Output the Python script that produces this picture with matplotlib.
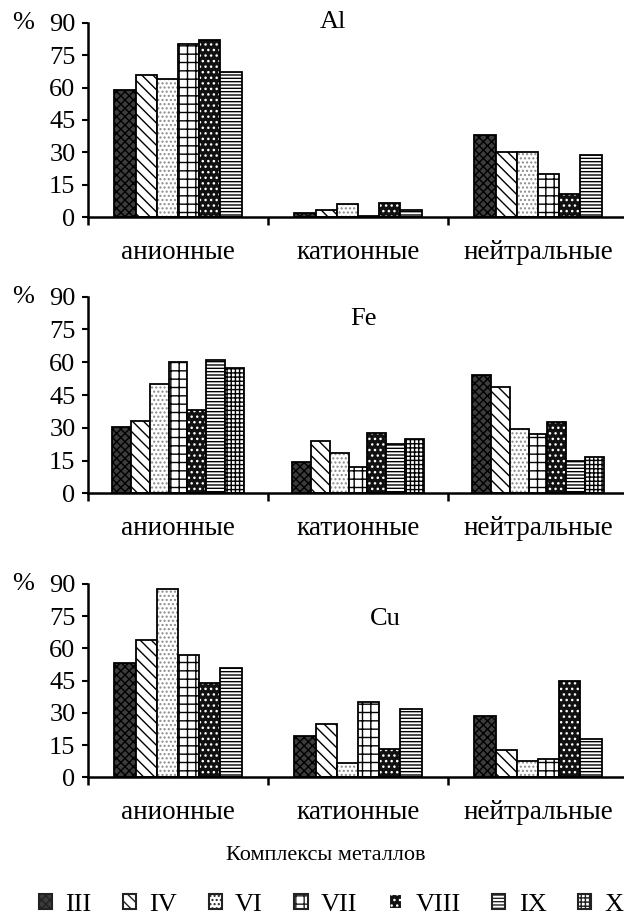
import numpy as np
import matplotlib
matplotlib.use("Agg")
import matplotlib.pyplot as plt
from matplotlib.patches import Patch

plt.rcParams["font.family"] = ["Liberation Serif", "DejaVu Serif"]
plt.rcParams["hatch.linewidth"] = 1.0

# ---- data -------------------------------------------------------------
categories = ["анионные", "катионные", "нейтральные"]
series_names = ["III", "IV", "VI", "VII", "VIII", "IX", "X"]

# Al
al_iii = [59, 2, 38]
al_iv = [66, 3.5, 30]
al_vi = [64, 6, 30]
al_vii = [80, 0.5, 20]
al_viii = [82, 6.5, 11]
al_ix = [67, 3.5, 29]

# Fe
fe_iii = [30.5, 14.5, 54]
fe_iv = [33, 24, 48.5]
fe_vi = [50, 18.5, 29.5]
fe_vii = [60, 12, 27]
fe_viii = [38, 27.5, 32.5]
fe_ix = [61, 22.5, 15]
fe_x = [57.5, 25, 16.5]

# Cu
cu_iii = [53, 19, 28.5]
cu_iv = [64, 25, 12.5]
cu_vi = [87.5, 6.5, 7.5]
cu_vii = [57, 35, 8.5]
cu_viii = [44, 13, 45]
cu_ix = [51, 32, 18]

y_ticks = [0, 15, 30, 45, 60, 75, 90]

# ---- fill styles: face colour, hatch pattern, hatch colour ------------
styles = {
    "III": dict(face="#3c3c3c", hatch="xxxx", hcolor="black"),
    "IV": dict(face="white", hatch="\\\\\\", hcolor="black"),
    "VI": dict(face="white", hatch="....", hcolor="#8a8a8a"),
    "VII": dict(face="white", hatch="++", hcolor="black"),
    "VIII": dict(face="#111111", hatch="...", hcolor="white"),
    "IX": dict(face="white", hatch="-----", hcolor="black"),
    "X": dict(face="white", hatch="++++", hcolor="black"),
}

W, H = 624, 924
fig = plt.figure(figsize=(W / 100, H / 100), dpi=100)


def px_axes(top, bottom, left=88, right=628):
    return fig.add_axes([left / W, 1 - bottom / H, (right - left) / W, (bottom - top) / H])


def draw_panel(ax, series, title, title_xy):
    n = len(series)
    w = 1.0 / (n + 2.5)
    x = np.arange(len(categories))
    for i, (name, vals) in enumerate(series):
        st = styles[name]
        pos = x + (i - (n - 1) / 2) * w
        ax.bar(pos, vals, w, color=st["face"], edgecolor=st["hcolor"],
               hatch=st["hatch"], linewidth=0)
        ax.bar(pos, vals, w, fill=False, edgecolor="black", linewidth=1.3)

    ax.set_xlim(-0.5, 2.5)
    ax.set_ylim(0, 90)
    ax.set_yticks(y_ticks)
    ax.spines[["top", "right"]].set_visible(False)
    ax.spines[["left", "bottom"]].set_linewidth(1.8)

    ax.set_xticks([-0.5, 0.5, 1.5, 2.5])
    ax.set_xticklabels([])
    ax.tick_params(axis="x", which="major", length=6, width=1.8, direction="out")
    ax.set_xticks(x, minor=True)
    ax.set_xticklabels(categories, minor=True, fontsize=19.5)
    ax.tick_params(axis="x", which="minor", length=0, pad=16)
    ax.tick_params(axis="y", length=4, width=1.5, labelsize=19, pad=5)

    ax.text(title_xy[0], title_xy[1], title, ha="center", va="center", fontsize=19)
    ax.text(-0.12, 1.0, "%", transform=ax.transAxes, ha="center", va="center", fontsize=19)


ax_al = px_axes(22.7, 217.3)
draw_panel(ax_al, [("III", al_iii), ("IV", al_iv), ("VI", al_vi), ("VII", al_vii),
                   ("VIII", al_viii), ("IX", al_ix)], "Al", (0.86, 90.5))

ax_fe = px_axes(296.7, 493.3)
draw_panel(ax_fe, [("III", fe_iii), ("IV", fe_iv), ("VI", fe_vi), ("VII", fe_vii),
                   ("VIII", fe_viii), ("IX", fe_ix), ("X", fe_x)], "Fe", (1.03, 80))

ax_cu = px_axes(584, 777.3)
draw_panel(ax_cu, [("III", cu_iii), ("IV", cu_iv), ("VI", cu_vi), ("VII", cu_vii),
                   ("VIII", cu_viii), ("IX", cu_ix)], "Cu", (1.15, 73.5))

fig.text(326 / W, 1 - 855 / H, "Комплексы металлов", ha="center", va="center", fontsize=16)

handles = [Patch(facecolor=styles[s]["face"],
                 edgecolor="#222222" if styles[s]["hcolor"] != "white" else "white",
                 hatch=styles[s]["hatch"], linewidth=1.5)
           for s in series_names]
leg = fig.legend(handles, series_names, loc="center", bbox_to_anchor=(331 / W, 1 - 905 / H),
                 ncol=7, frameon=False, fontsize=19, handlelength=0.5, handleheight=0.5,
                 handletextpad=0.5, columnspacing=1.2)
for p in leg.get_patches():
    p.set_edgecolor("#222222") if p.get_facecolor()[0] > 0.5 else None

fig.savefig("out.png", dpi=100)
